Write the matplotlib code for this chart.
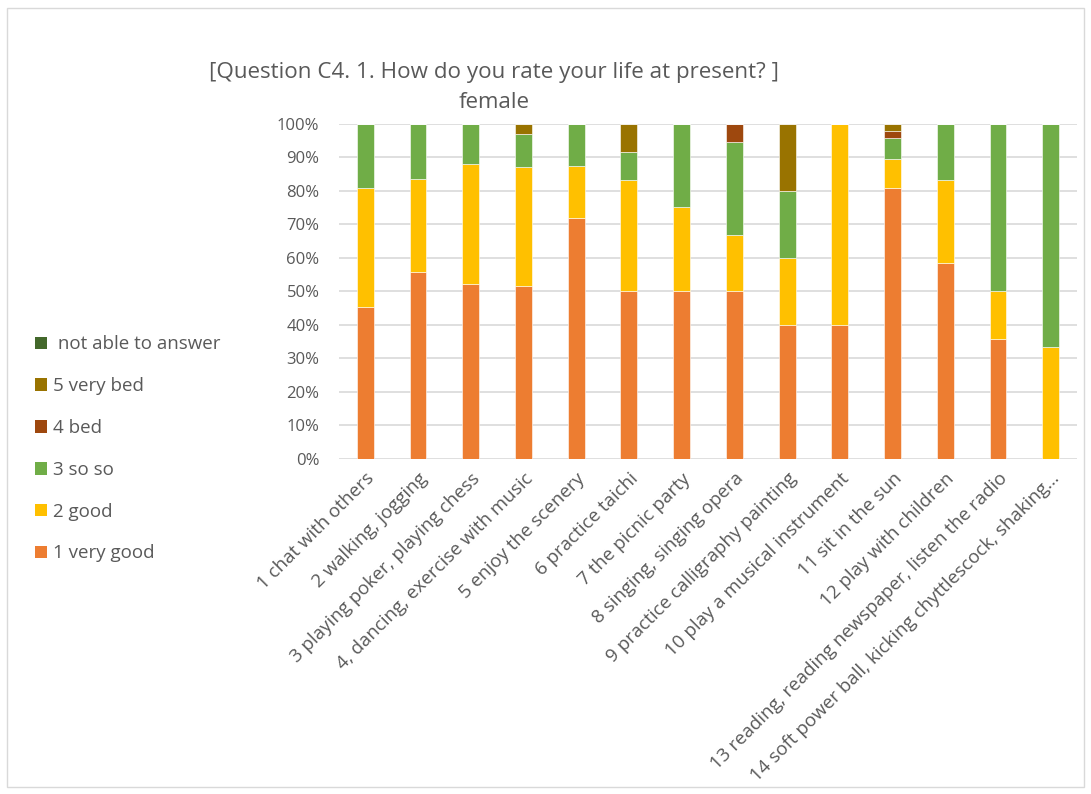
import matplotlib.pyplot as plt
import numpy as np
from matplotlib.patches import Patch, Rectangle

plt.rcParams['font.family'] = ['Open Sans', 'DejaVu Sans']

categories = [
    "1 chat with others",
    "2 walking, jogging",
    "3 playing poker, playing chess",
    "4, dancing, exercise with music",
    "5 enjoy the scenery",
    "6 practice taichi",
    "7 the picnic party",
    "8 singing, singing opera",
    "9 practice calligraphy painting",
    "10 play a musical instrument",
    "11 sit in the sun",
    "12 play with children",
    "13 reading, reading newspaper, listen the radio",
    "14 soft power ball, kicking chyttlescock, shaking\u2026",
]

# percentages per rating
very_good = [45.2, 55.6, 52.0, 51.6, 71.9, 50.0, 50.0, 50.0, 40.0, 40.0, 80.9, 58.3, 35.7, 0.0]
good      = [35.5, 27.8, 36.0, 35.5, 15.6, 33.3, 25.0, 16.7, 20.0, 60.0, 8.5, 25.0, 14.3, 33.3]
so_so     = [19.3, 16.6, 12.0, 9.7, 12.5, 8.3, 25.0, 27.7, 20.0, 0.0, 6.4, 16.7, 50.0, 66.7]
bed       = [0.0, 0.0, 0.0, 0.0, 0.0, 0.0, 0.0, 5.6, 0.0, 0.0, 2.1, 0.0, 0.0, 0.0]
very_bed  = [0.0, 0.0, 0.0, 3.2, 0.0, 8.4, 0.0, 0.0, 20.0, 0.0, 2.1, 0.0, 0.0, 0.0]
not_able  = [0.0] * 14

series = [
    ("1 very good", very_good, "#ED7D31"),
    ("2 good", good, "#FFC000"),
    ("3 so so", so_so, "#70AD47"),
    ("4 bed", bed, "#9E480E"),
    ("5 very bed", very_bed, "#997300"),
    (" not able to answer", not_able, "#43682B"),
]

fig = plt.figure(figsize=(10.91, 7.94), dpi=100)
ax = fig.add_axes([0.3107, 0.4225, 0.6765, 0.4217])

x = np.arange(len(categories))
bottom = np.zeros(len(categories))
for name, vals, col in series:
    vals = np.array(vals)
    ax.bar(x, vals, 0.32, bottom=bottom, color=col, edgecolor="white", linewidth=0.4, zorder=3)
    bottom += vals

ax.set_xlim(-0.5, len(categories) - 0.5)
ax.set_ylim(0, 100)
ax.set_yticks(np.arange(0, 101, 10))
ax.set_yticklabels([f"{v}%" for v in range(0, 101, 10)], fontsize=12, color="#595959")
ax.yaxis.grid(True, color="#D9D9D9", linewidth=1.2, zorder=0)
ax.set_xticks(x)
ax.set_xticklabels(categories, rotation=45, ha="right", rotation_mode="anchor",
                   fontsize=13.5, color="#595959")
ax.tick_params(length=0)
ax.tick_params(axis="y", pad=14)
ax.tick_params(axis="x", pad=8)
for s in ax.spines.values():
    s.set_visible(False)

fig.text(0.4528, 0.909, "[Question C4. 1. How do you rate your life at present? ]",
         ha="center", va="center", fontsize=16.1, color="#595959")
fig.text(0.4528, 0.871, "female", ha="center", va="center", fontsize=16.1, color="#595959")

handles = [Patch(facecolor=c, label=n) for n, v, c in series[::-1]]
fig.legend(handles=handles, loc="upper left", bbox_to_anchor=(0.025, 0.587),
           frameon=False, fontsize=13.5, labelcolor="#595959",
           handlelength=0.65, handleheight=0.65, handletextpad=0.3,
           labelspacing=1.27, borderaxespad=0)

fig.patches.append(Rectangle((0.006, 0.009), 0.988, 0.981, transform=fig.transFigure,
                             fill=False, edgecolor="#D9D9D9", linewidth=1))

fig.savefig("out.png", dpi=100)
